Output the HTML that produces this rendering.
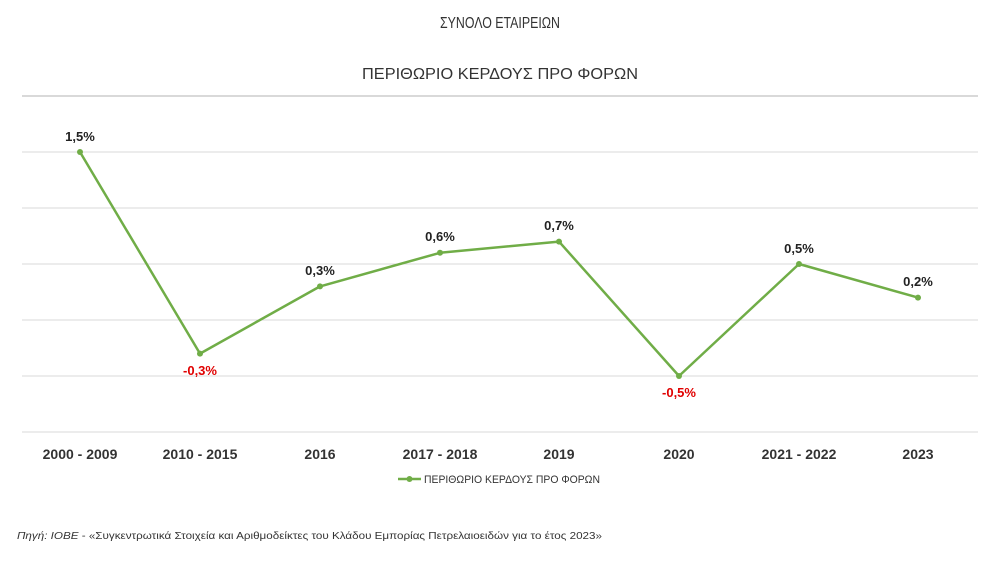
<!DOCTYPE html>
<html><head><meta charset="utf-8"><style>
html,body{margin:0;padding:0;background:#fff;}
svg{display:block;font-family:"Liberation Sans","DejaVu Sans",sans-serif;}
</style></head><body>
<svg width="1000" height="562" viewBox="0 0 1000 562" xmlns="http://www.w3.org/2000/svg">
<rect width="1000" height="562" fill="#fff"/>
<text x="500" y="28" text-anchor="middle" font-size="16" fill="#333" textLength="120" lengthAdjust="spacingAndGlyphs">ΣΥΝΟΛΟ ΕΤΑΙΡΕΙΩΝ</text>
<text x="500" y="79" text-anchor="middle" font-size="16" fill="#333" textLength="276" lengthAdjust="spacingAndGlyphs">ΠΕΡΙΘΩΡΙΟ ΚΕΡΔΟΥΣ ΠΡΟ ΦΟΡΩΝ</text>
<g stroke="#d9d9d9" stroke-width="1">
<line x1="22" y1="96" x2="978" y2="96" stroke-width="2"/>
<line x1="22" y1="152" x2="978" y2="152"/>
<line x1="22" y1="208" x2="978" y2="208"/>
<line x1="22" y1="264" x2="978" y2="264"/>
<line x1="22" y1="320" x2="978" y2="320"/>
<line x1="22" y1="376" x2="978" y2="376"/>
<line x1="22" y1="432" x2="978" y2="432"/>
</g>
<polyline fill="none" stroke="#70ad47" stroke-width="2.5" stroke-linejoin="round" points="80,152 200,353.6 320,286.4 440,252.8 559,241.6 679,376 799,264 918,297.6"/>
<g fill="#70ad47">
<circle cx="80" cy="152" r="3"/><circle cx="200" cy="353.6" r="3"/><circle cx="320" cy="286.4" r="3"/><circle cx="440" cy="252.8" r="3"/><circle cx="559" cy="241.6" r="3"/><circle cx="679" cy="376" r="3"/><circle cx="799" cy="264" r="3"/><circle cx="918" cy="297.6" r="3"/>
</g>
<g font-size="13" font-weight="bold" text-anchor="middle" fill="#222">
<text x="80" y="141">1,5%</text>
<text x="200" y="375" fill="#e00000">-0,3%</text>
<text x="320" y="275">0,3%</text>
<text x="440" y="241">0,6%</text>
<text x="559" y="230">0,7%</text>
<text x="679" y="397" fill="#e00000">-0,5%</text>
<text x="799" y="253">0,5%</text>
<text x="918" y="286">0,2%</text>
</g>
<g font-size="14" font-weight="bold" text-anchor="middle" fill="#333">
<text x="80" y="459">2000 - 2009</text>
<text x="200" y="459">2010 - 2015</text>
<text x="320" y="459">2016</text>
<text x="440" y="459">2017 - 2018</text>
<text x="559" y="459">2019</text>
<text x="679" y="459">2020</text>
<text x="799" y="459">2021 - 2022</text>
<text x="918" y="459">2023</text>
</g>
<line x1="398" y1="479" x2="421" y2="479" stroke="#70ad47" stroke-width="2.5"/>
<circle cx="409.5" cy="479" r="3" fill="#70ad47"/>
<text x="424" y="483" font-size="11" fill="#333" textLength="176" lengthAdjust="spacingAndGlyphs">ΠΕΡΙΘΩΡΙΟ ΚΕΡΔΟΥΣ ΠΡΟ ΦΟΡΩΝ</text>
<text x="17" y="539" font-size="10.5" fill="#333" textLength="585" lengthAdjust="spacingAndGlyphs"><tspan font-style="italic">Πηγή: ΙΟΒΕ</tspan> - «Συγκεντρωτικά Στοιχεία και Αριθμοδείκτες του Κλάδου Εμπορίας Πετρελαιοειδών για το έτος 2023»</text>
</svg>
</body></html>
